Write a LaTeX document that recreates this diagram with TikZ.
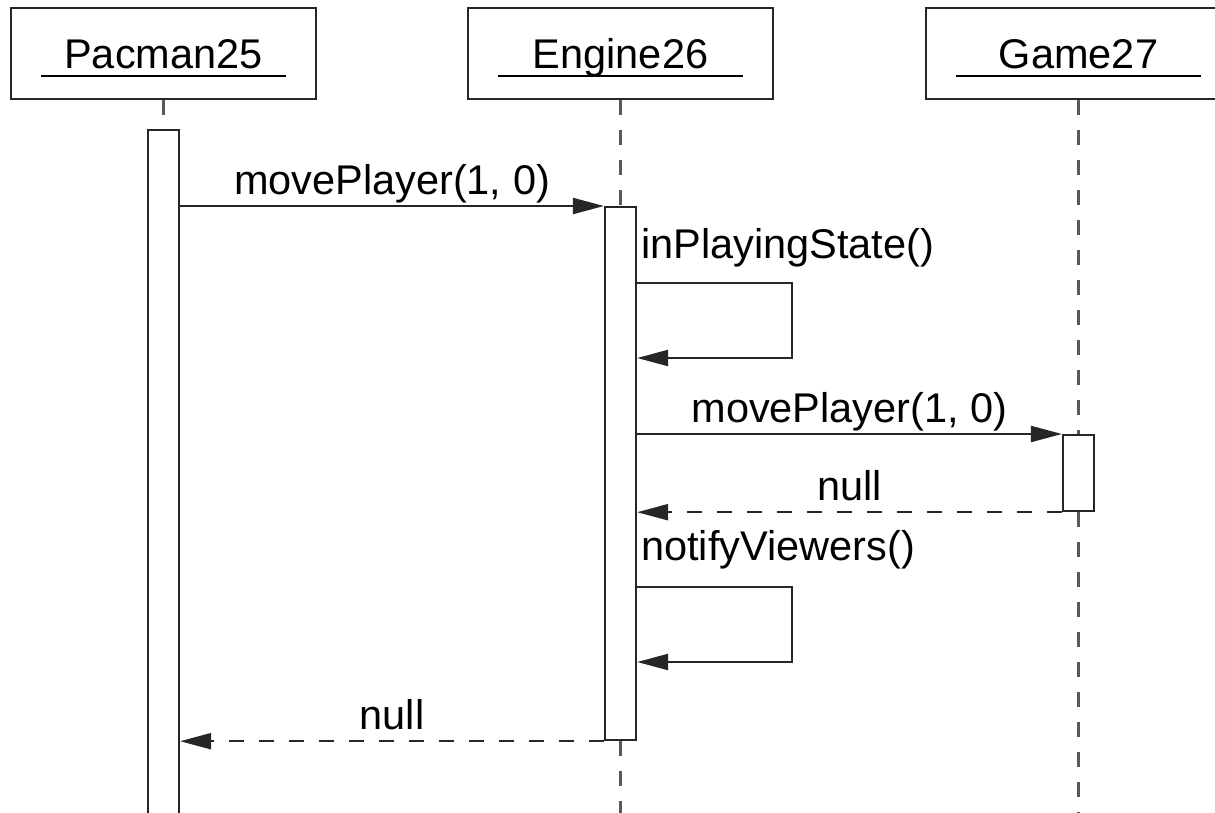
\documentclass[tikz,border=0pt]{standalone}
\usepackage{fontspec}
\setmainfont{Liberation Sans}
\usetikzlibrary{arrows.meta}

\tikzset{
  ln/.style={line width=2.2pt, draw=black!85},
  objbox/.style={ln, rectangle, fill=white, minimum width=305pt, minimum height=91pt, inner sep=0pt},
  objname/.style={anchor=base, inner sep=0pt, font=\fontsize{41.5}{50}\selectfont},
  uline/.style={line width=2pt, draw=black},
  lifeline/.style={line width=2.4pt, draw=black!65, dash pattern=on 15pt off 15pt},
  actbar/.style={ln, rectangle, fill=white, minimum width=31pt, inner sep=0pt, anchor=north},
  call/.style={ln, -{Triangle[length=31pt,width=16pt]}},
  reply/.style={ln, dash pattern=on 15pt off 15pt, -{Triangle[length=31pt,width=16pt]}},
  msg/.style={anchor=base, yshift=12pt, inner sep=0pt, font=\fontsize{41.5}{50}\selectfont},
  selfmsg/.style={anchor=base west, inner sep=0pt, font=\fontsize{41.5}{50}\selectfont},
}

\begin{document}
\begin{tikzpicture}[x=1pt, y=-1pt]
\useasboundingbox (0,0) rectangle (1215,812);
\clip (0,0) rectangle (1215,812);

% object heads
\node[objbox] (pac) at (163.5,53.5) {};
\node[objbox] (eng) at (620.5,53.5) {};
\node[objbox] (gam) at (1078.5,53.5) {};
\node[objname] (pacname) at (163.5,68) {Pacman25};
\node[objname] (engname) at (620.5,68) {Engine26};
\node[objname] (gamname) at (1078.5,68) {Game27};
\foreach \o in {pac,eng,gam}
  \draw[uline] ([shift={(31,-24)}]\o.south west) -- ([shift={(-31,-24)}]\o.south east);

% activation bars
\node[actbar, minimum height=720pt] (pacbar) at (163.5,129) {};
\node[actbar, minimum height=533pt] (engbar) at (620.5,206) {};
\node[actbar, minimum height=76pt]  (gambar) at (1078.5,434) {};

% lifelines
\draw[lifeline] (pac.south) -- (pacbar.north);
\draw[lifeline] (eng.south) -- (engbar.north);
\draw[lifeline] (engbar.south) -- ++(0,80);
\draw[lifeline] (gam.south) -- (gambar.north);
\draw[lifeline] (gambar.south) -- ++(0,310);

% messages
\draw[call] (pacbar.east |- engbar.north west) -- (engbar.north west)
  node[msg, midway] (m1) {movePlayer(1, 0)};

\node[selfmsg] (s1) at ([shift={(4,52)}]engbar.north east) {inPlayingState()};
\draw[call] ([yshift=-77pt]engbar.north east) -- ++(155,0) -- ++(0,75)
  -- ([yshift=-152pt]engbar.north east);

\draw[call] (engbar.east |- gambar.north west) -- (gambar.north west)
  node[msg, midway] (m2) {movePlayer(1, 0)};

\draw[reply] (gambar.south west) -- (engbar.east |- gambar.south west)
  node[msg, midway] (r1) {null};

\node[selfmsg] (s2) at ([shift={(4,354)}]engbar.north east) {notifyViewers()};
\draw[call] ([yshift=-381pt]engbar.north east) -- ++(155,0) -- ++(0,75)
  -- ([yshift=-456pt]engbar.north east);

\draw[reply] (engbar.south west) -- (pacbar.east |- engbar.south west)
  node[msg, midway] (r2) {null};
\end{tikzpicture}
\end{document}
